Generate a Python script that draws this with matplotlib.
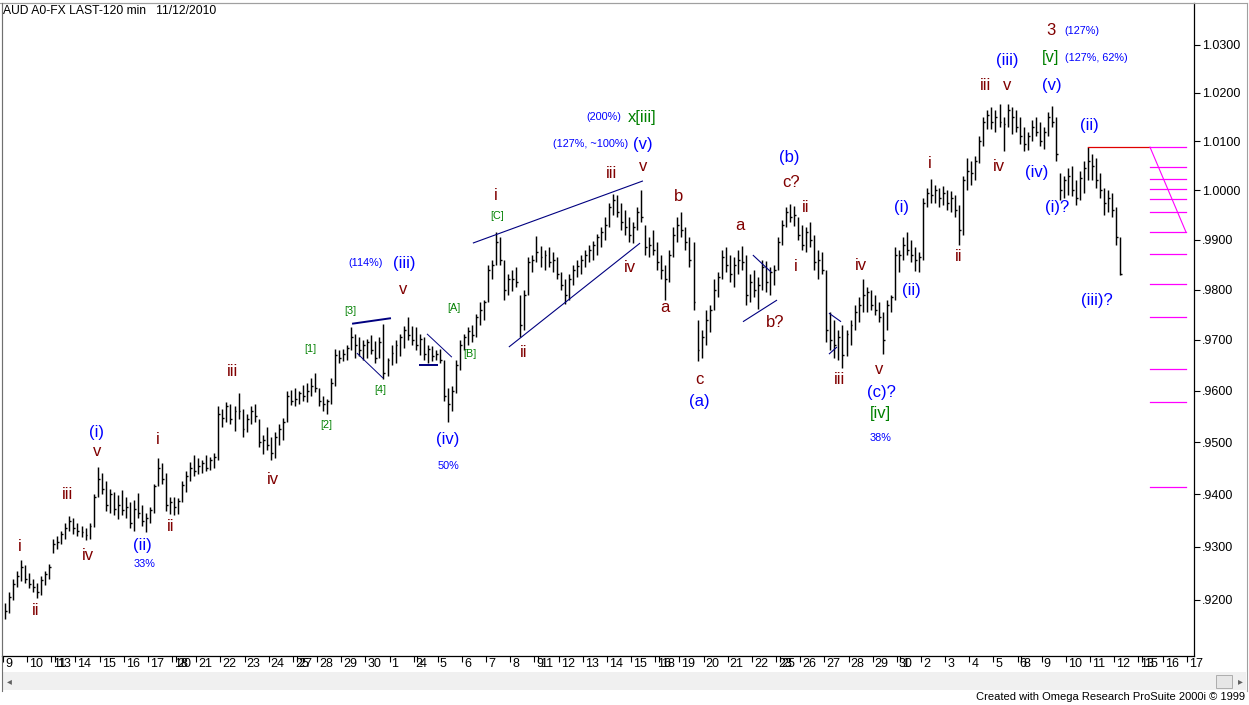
import numpy as np
import matplotlib
matplotlib.use("Agg")
import matplotlib.pyplot as plt
from matplotlib.collections import LineCollection
from matplotlib.ticker import FixedLocator, FixedFormatter, NullLocator
import matplotlib.patches as mpatches
from matplotlib.lines import Line2D

plt.rcParams['font.family'] = ['Liberation Sans', 'DejaVu Sans']

# ---------------- data ----------------
title = "AUD A0-FX LAST-120 min   11/12/2010"

# trading-day labels (one per day, day index 0..49)
day_labels = ['9', '10', '13', '14', '15', '16', '17', '20', '21', '22', '23', '24',
              '27', '28', '29', '30', '1', '4', '5', '6', '7', '8', '11', '12', '13',
              '14', '15', '18', '19', '20', '21', '22', '25', '26', '27', '28', '29',
              '1', '2', '3', '4', '5', '8', '9', '10', '11', '12', '15', '16', '17']
# Saturday labels attached to the Monday index (weekend session)
weekend_days = [2, 7, 12, 17, 22, 27, 32, 37, 42, 47]
weekend_labels = ['11', '18', '25', '2', '9', '16', '23', '30', '6', '13']

# price bars, in pips (value / 10000), one row per trading day
bar_high = [
    [9195, 9215, 9240, 9255, 9275, 9265],
    [9250, 9240, 9232, 9245, 9255, 9268],
    [9315, 9320, 9330, 9345, 9358, 9355],
    [9345, 9340, 9335, 9345, 9400, 9452],
    [9440, 9425, 9410, 9405, 9398, 9408],
    [9395, 9385, 9390, 9402, 9380, 9365],
    [9375, 9420, 9470, 9460, 9440, 9395],
    [9395, 9392, 9425, 9445, 9462, 9475],
    [9470, 9465, 9475, 9472, 9480, 9570],
    [9565, 9578, 9575, 9570, 9595, 9565],
    [9555, 9570, 9575, 9545, 9515, 9530],
    [9510, 9520, 9535, 9548, 9600, 9602],
    [9605, 9600, 9612, 9615, 9625, 9635],
    [9605, 9590, 9585, 9625, 9682, 9680],
    [9682, 9690, 9725, 9712, 9705, 9700],
    [9702, 9710, 9698, 9705, 9732, 9665],
    [9690, 9700, 9712, 9728, 9745, 9728],
    [9725, 9712, 9705, 9690, 9688, 9680],
    [9682, 9660, 9605, 9610, 9660, 9700],
    [9712, 9725, 9730, 9752, 9775, 9780],
    [9850, 9860, 9915, 9905, 9860, 9830],
    [9840, 9845, 9790, 9800, 9865, 9870],
    [9907, 9888, 9880, 9885, 9875, 9865],
    [9835, 9820, 9830, 9850, 9860, 9870],
    [9880, 9890, 9898, 9912, 9925, 9945],
    [9975, 9992, 9990, 9975, 9960, 9945],
    [9935, 9965, 10000, 9930, 9905, 9920],
    [9895, 9870, 9850, 9880, 9925, 9945],
    [9955, 9925, 9905, 9895, 9740, 9720],
    [9760, 9770, 9820, 9835, 9880, 9885],
    [9870, 9865, 9880, 9888, 9870, 9830],
    [9840, 9825, 9860, 9858, 9845, 9850],
    [9905, 9940, 9965, 9973, 9968, 9945],
    [9930, 9925, 9935, 9910, 9880, 9875],
    [9840, 9755, 9740, 9720, 9730, 9720],
    [9740, 9770, 9785, 9820, 9805, 9800],
    [9790, 9775, 9755, 9780, 9790, 9885],
    [9880, 9905, 9915, 9900, 9885, 9875],
    [9985, 10005, 10022, 10010, 10005, 10008],
    [10000, 9998, 9990, 9970, 10030, 10065],
    [10060, 10070, 10110, 10150, 10165, 10170],
    [10165, 10177, 10150, 10178, 10170, 10165],
    [10150, 10130, 10120, 10145, 10150, 10140],
    [10130, 10160, 10172, 10150, 10035, 10030],
    [10045, 10050, 10020, 10040, 10060, 10088],
    [10075, 10065, 10035, 10005, 10000, 9995],
    [9965, 9905],
]
bar_low = [
    [9165, 9175, 9200, 9225, 9235, 9232],
    [9222, 9215, 9204, 9210, 9228, 9240],
    [9288, 9295, 9305, 9315, 9330, 9325],
    [9320, 9318, 9313, 9315, 9338, 9395],
    [9400, 9368, 9365, 9360, 9352, 9360],
    [9355, 9335, 9330, 9355, 9340, 9328],
    [9345, 9365, 9415, 9420, 9368, 9362],
    [9360, 9362, 9385, 9405, 9425, 9435],
    [9438, 9440, 9445, 9447, 9450, 9465],
    [9530, 9540, 9535, 9522, 9545, 9510],
    [9520, 9535, 9540, 9490, 9478, 9485],
    [9465, 9470, 9495, 9505, 9540, 9572],
    [9570, 9575, 9580, 9578, 9590, 9598],
    [9570, 9560, 9555, 9575, 9610, 9655],
    [9658, 9660, 9680, 9665, 9668, 9660],
    [9665, 9672, 9655, 9665, 9623, 9630],
    [9650, 9655, 9668, 9685, 9700, 9690],
    [9680, 9670, 9660, 9655, 9658, 9660],
    [9655, 9580, 9540, 9560, 9595, 9640],
    [9680, 9690, 9695, 9705, 9730, 9740],
    [9775, 9820, 9850, 9850, 9780, 9790],
    [9798, 9805, 9705, 9720, 9790, 9835],
    [9855, 9845, 9840, 9845, 9835, 9820],
    [9800, 9772, 9780, 9810, 9825, 9830],
    [9845, 9855, 9860, 9870, 9885, 9900],
    [9925, 9950, 9945, 9920, 9910, 9895],
    [9893, 9920, 9935, 9870, 9865, 9870],
    [9840, 9820, 9780, 9815, 9865, 9895],
    [9905, 9880, 9845, 9760, 9658, 9665],
    [9690, 9715, 9760, 9785, 9820, 9835],
    [9815, 9805, 9830, 9840, 9770, 9775],
    [9785, 9762, 9800, 9795, 9790, 9810],
    [9840, 9890, 9925, 9935, 9928, 9900],
    [9880, 9875, 9885, 9840, 9820, 9830],
    [9695, 9680, 9665, 9660, 9645, 9668],
    [9690, 9720, 9735, 9755, 9755, 9760],
    [9750, 9735, 9672, 9720, 9755, 9780],
    [9835, 9860, 9870, 9855, 9838, 9835],
    [9860, 9965, 9975, 9975, 9965, 9970],
    [9960, 9955, 9945, 9890, 9910, 10000],
    [10010, 10020, 10055, 10090, 10125, 10125],
    [10120, 10130, 10080, 10130, 10115, 10120],
    [10095, 10080, 10082, 10100, 10110, 10090],
    [10085, 10110, 10130, 10060, 9980, 9985],
    [9990, 9988, 9970, 9980, 9995, 10020],
    [10020, 10005, 9985, 9950, 9955, 9945],
    [9890, 9828],
]
bar_close = [
    [9180, 9205, 9230, 9245, 9262, 9240],
    [9230, 9225, 9215, 9238, 9248, 9262],
    [9305, 9310, 9325, 9335, 9350, 9335],
    [9330, 9328, 9322, 9340, 9395, 9430],
    [9410, 9380, 9400, 9372, 9380, 9370],
    [9375, 9345, 9372, 9365, 9350, 9355],
    [9370, 9415, 9450, 9430, 9380, 9385],
    [9375, 9388, 9418, 9435, 9450, 9445],
    [9455, 9460, 9450, 9465, 9472, 9555],
    [9548, 9570, 9545, 9560, 9560, 9525],
    [9545, 9560, 9550, 9500, 9505, 9495],
    [9480, 9510, 9525, 9540, 9590, 9580],
    [9585, 9595, 9590, 9600, 9610, 9605],
    [9580, 9575, 9580, 9615, 9670, 9665],
    [9672, 9685, 9705, 9690, 9680, 9690],
    [9695, 9680, 9665, 9695, 9635, 9660],
    [9675, 9690, 9705, 9720, 9710, 9700],
    [9690, 9702, 9672, 9682, 9668, 9672],
    [9660, 9590, 9575, 9600, 9650, 9690],
    [9705, 9718, 9710, 9745, 9760, 9775],
    [9840, 9850, 9895, 9860, 9800, 9820],
    [9820, 9815, 9730, 9790, 9855, 9860],
    [9875, 9865, 9870, 9855, 9860, 9830],
    [9810, 9790, 9820, 9840, 9848, 9860],
    [9870, 9880, 9890, 9905, 9915, 9930],
    [9965, 9980, 9955, 9935, 9925, 9910],
    [9925, 9955, 9945, 9885, 9890, 9880],
    [9855, 9840, 9820, 9870, 9910, 9930],
    [9920, 9895, 9860, 9775, 9680, 9705],
    [9740, 9760, 9800, 9825, 9865, 9850],
    [9830, 9850, 9860, 9855, 9790, 9815],
    [9800, 9810, 9845, 9815, 9835, 9840],
    [9895, 9930, 9955, 9945, 9950, 9910],
    [9890, 9915, 9900, 9855, 9860, 9840],
    [9720, 9700, 9690, 9705, 9670, 9712],
    [9730, 9755, 9770, 9790, 9795, 9770],
    [9760, 9745, 9700, 9770, 9785, 9870],
    [9870, 9890, 9880, 9870, 9860, 9865],
    [9975, 9995, 9990, 10000, 9985, 9995],
    [9975, 9985, 9960, 9920, 10020, 10040],
    [10035, 10060, 10100, 10140, 10155, 10140],
    [10150, 10140, 10135, 10165, 10150, 10130],
    [10110, 10095, 10110, 10130, 10120, 10100],
    [10120, 10150, 10140, 10075, 10000, 10020],
    [10030, 10000, 9985, 10025, 10045, 10060],
    [10050, 10020, 10000, 9975, 9985, 9960],
    [9905, 9830],
]
bars_per_day = 6

price_ticks = [0.92, 0.93, 0.94, 0.95, 0.96, 0.97, 0.98, 0.99, 1.00, 1.01, 1.02, 1.03]

# Fibonacci projection levels (magenta) and the (ii) reference level (red)
fib_levels = [1.0088, 1.0047, 1.0023, 1.0003, 0.9982, 0.9956, 0.9915,
              0.9871, 0.9811, 0.9745, 0.9643, 0.9578, 0.9414]
ref_level = 1.0088

# trend lines: (day0, price0, day1, price1, width)
trend_lines = [
    (14.45, 0.9732, 16.06, 0.9743, 1.4),
    (14.65, 0.9674, 15.73, 0.9625, 0.7),
    (17.55, 0.9712, 18.58, 0.9666, 0.7),
    (17.22, 0.9651, 18.00, 0.9651, 1.4),
    (19.45, 0.9893, 26.49, 1.0019, 0.8),
    (20.94, 0.9686, 26.37, 0.9893, 0.8),
    (31.04, 0.9869, 31.79, 0.9835, 0.8),
    (30.63, 0.9736, 32.04, 0.9779, 0.8),
    (34.19, 0.9753, 34.69, 0.9736, 0.8),
    (34.19, 0.9672, 34.52, 0.9686, 0.8),
]

RED = '#800000'
BLUE = '#0000FF'
GREEN = '#008000'
BIG = 12
SMALL = 7.8
# wave labels: (text, day, price, colour, size)
labels = [
    ('i', 0.70, 0.9300, RED, BIG), ('ii', 1.37, 0.9181, RED, BIG),
    ('iii', 2.69, 0.9400, RED, BIG), ('iv', 3.52, 0.9283, RED, BIG),
    ('v', 3.89, 0.9483, RED, BIG), ('(i)', 3.85, 0.9519, BLUE, BIG),
    ('(ii)', 5.79, 0.9302, BLUE, BIG), ('33%', 5.84, 0.9268, BLUE, SMALL),
    ('i', 6.42, 0.9506, RED, BIG), ('ii', 6.95, 0.9338, RED, BIG),
    ('iii', 9.52, 0.9637, RED, BIG), ('iv', 11.18, 0.9429, RED, BIG),
    ('[1]', 12.71, 0.9682, GREEN, SMALL), ('[2]', 13.37, 0.9534, GREEN, SMALL),
    ('[3]', 14.36, 0.9757, GREEN, SMALL), ('[4]', 15.60, 0.9602, GREEN, SMALL),
    ('(114%)', 15.02, 0.9853, BLUE, SMALL), ('(iii)', 16.60, 0.9853, BLUE, BIG),
    ('v', 16.56, 0.9800, RED, BIG), ('(iv)', 18.42, 0.9506, BLUE, BIG),
    ('50%', 18.42, 0.9454, BLUE, SMALL), ('[A]', 18.67, 0.9764, GREEN, SMALL),
    ('[B]', 19.33, 0.9672, GREEN, SMALL), ('[C]', 20.45, 0.9948, GREEN, SMALL),
    ('i', 20.41, 0.9990, RED, BIG), ('ii', 21.56, 0.9675, RED, BIG),
    ('(200%)', 24.88, 1.0150, BLUE, SMALL), ('x[iii]', 26.45, 1.0150, GREEN, BIG),
    ('(127%, ~100%)', 24.34, 1.0094, BLUE, SMALL), ('(v)', 26.49, 1.0094, BLUE, BIG),
    ('iii', 25.17, 1.0035, RED, BIG), ('v', 26.49, 1.0049, RED, BIG),
    ('iv', 25.95, 0.9845, RED, BIG), ('b', 27.98, 0.9988, RED, BIG),
    ('a', 27.40, 0.9764, RED, BIG), ('c', 28.81, 0.9622, RED, BIG),
    ('(a)', 28.81, 0.9579, BLUE, BIG), ('a', 30.51, 0.9928, RED, BIG),
    ('b?', 31.95, 0.9734, RED, BIG), ('(b)', 32.53, 1.0067, BLUE, BIG),
    ('c?', 32.62, 1.0016, RED, BIG), ('ii', 33.24, 0.9964, RED, BIG),
    ('i', 32.82, 0.9847, RED, BIG), ('iii', 34.64, 0.9622, RED, BIG),
    ('iv', 35.51, 0.9849, RED, BIG), ('v', 36.26, 0.9641, RED, BIG),
    ('(c)?', 36.38, 0.9596, BLUE, BIG), ('[iv]', 36.34, 0.9555, GREEN, BIG),
    ('38%', 36.34, 0.9509, BLUE, SMALL), ('(i)', 37.21, 0.9964, BLUE, BIG),
    ('(ii)', 37.62, 0.9798, BLUE, BIG), ('i', 38.37, 1.0055, RED, BIG),
    ('ii', 39.57, 0.9866, RED, BIG), ('iii', 40.65, 1.0215, RED, BIG),
    ('v', 41.56, 1.0215, RED, BIG), ('iv', 41.23, 1.0049, RED, BIG),
    ('(iii)', 41.56, 1.0268, BLUE, BIG), ('3', 43.38, 1.0331, RED, BIG),
    ('(127%)', 44.66, 1.0329, BLUE, SMALL), ('[v]', 43.38, 1.0273, GREEN, BIG),
    ('(127%, 62%)', 45.24, 1.0273, BLUE, SMALL), ('(v)', 43.42, 1.0215, BLUE, BIG),
    ('(iv)', 42.80, 1.0037, BLUE, BIG), ('(ii)', 44.95, 1.0133, BLUE, BIG),
    ('(i)?', 43.63, 0.9964, BLUE, BIG), ('(iii)?', 45.28, 0.9778, BLUE, BIG),
]

# ---------------- figure ----------------
W, H = 1249, 705
fig = plt.figure(figsize=(W / 100, H / 100), dpi=100)
fig.patch.set_facecolor('white')

ax_l, ax_r, ax_t, ax_b = 2, 1194, 3, 656
ax = fig.add_axes([ax_l / W, 1 - ax_b / H, (ax_r - ax_l) / W, (ax_b - ax_t) / H])
ax.set_facecolor('white')
ax.set_yscale('log')
ax.set_ylim(0.90957, 1.03884)
ax.set_xlim(-0.041, 49.30)

# bars
segs, ticks = [], []
for d, (hs, ls, cs) in enumerate(zip(bar_high, bar_low, bar_close)):
    for k, (h, l, c) in enumerate(zip(hs, ls, cs)):
        x = d + (k + 0.5) / bars_per_day
        segs.append([(x, l / 1e4), (x, h / 1e4)])
        ticks.append([(x, c / 1e4), (x + 0.08, c / 1e4)])
ax.add_collection(LineCollection(segs, colors='black', linewidths=1.05, antialiaseds=True))
ax.add_collection(LineCollection(ticks, colors='black', linewidths=1.0, antialiaseds=True))

# trend lines
for x0, p0, x1, p1, lw in trend_lines:
    ax.plot([x0, x1], [p0, p1], color='#000080', lw=lw, solid_capstyle='butt')

# reference and fib levels
ax.plot([44.91, 47.45], [ref_level, ref_level], color='#E00000', lw=0.9)
fx0, fx1 = 47.48, 48.97
for lv in fib_levels:
    ax.plot([fx0, fx1], [lv, lv], color='#FF00FF', lw=0.9)
ax.plot([fx0, fx1], [fib_levels[0], fib_levels[6]], color='#FF00FF', lw=0.8)

# labels
for txt, xd, pr, col, sz in labels:
    ax.text(xd, pr, txt, color=col, fontsize=sz, ha='center', va='center')

# axes styling
for side in ['top', 'left']:
    ax.spines[side].set_color('#A0A0A0')
    ax.spines[side].set_linewidth(0.8)
for side in ['bottom', 'right']:
    ax.spines[side].set_color('black')
    ax.spines[side].set_linewidth(0.9)

ax.yaxis.tick_right()
ax.yaxis.set_major_locator(FixedLocator(price_ticks))
ax.yaxis.set_major_formatter(FixedFormatter(
    [('%.4f' % p) if p >= 1 else ('%.4f' % p)[1:] for p in price_ticks]))
ax.yaxis.set_minor_locator(NullLocator())
ax.tick_params(axis='y', which='major', length=4, width=0.8, pad=2,
               labelsize=9, colors='black', direction='out')

xt_pos, xt_lab = [], []
for d, lab in enumerate(day_labels):
    if d in weekend_days:
        xt_pos.append(d)
        xt_lab.append(weekend_labels[weekend_days.index(d)])
        xt_pos.append(d + 0.15)
    else:
        xt_pos.append(d)
    xt_lab.append(lab)
ax.set_xticks(xt_pos)
ax.set_xticklabels([])
ax.xaxis.set_minor_locator(NullLocator())
ax.tick_params(axis='x', which='major', length=4.3, width=0.8, direction='out')
for xp, lab in zip(xt_pos, xt_lab):
    ax.annotate(lab, xy=(xp, 0), xycoords=('data', 'axes fraction'),
                xytext=(2, -2), textcoords='offset pixels',
                ha='left', va='top', fontsize=9, color='black', annotation_clip=False)

# window chrome
def fx(x):
    return x / W

def fy(y):
    return 1 - y / H

fig.add_artist(Line2D([fx(0), fx(1247)], [fy(2.5), fy(2.5)], color='#A0A0A0', lw=0.8))
fig.add_artist(Line2D([fx(1246.5), fx(1246.5)], [fy(2.5), fy(691)], color='#A0A0A0', lw=0.8))
fig.add_artist(Line2D([fx(1.5), fx(1.5)], [fy(2.5), fy(691)], color='#707070', lw=0.8))
fig.add_artist(mpatches.Rectangle((fx(2), fy(690)), fx(1244), (690 - 672) / H,
                                  transform=fig.transFigure, facecolor='#F0F0F0',
                                  edgecolor='none'))
fig.add_artist(mpatches.Rectangle((fx(1216), fy(688)), fx(16), (688 - 675) / H,
                                  transform=fig.transFigure, facecolor='#E6E6E6',
                                  edgecolor='#ADADAD', lw=0.7))
fig.text(fx(9), fy(681), '\u25c2', fontsize=7, color='#606060', ha='center', va='center')
fig.text(fx(1240), fy(681), '\u25b8', fontsize=7, color='#606060', ha='center', va='center')

fig.text(fx(3), fy(11), title, fontsize=8.7, color='black', ha='left', va='center')
fig.text(fx(1245), fy(697), 'Created with Omega Research ProSuite 2000i \u00a9 1999',
         fontsize=8, color='black', ha='right', va='center')

fig.savefig('out.png', dpi=100, facecolor='white')
